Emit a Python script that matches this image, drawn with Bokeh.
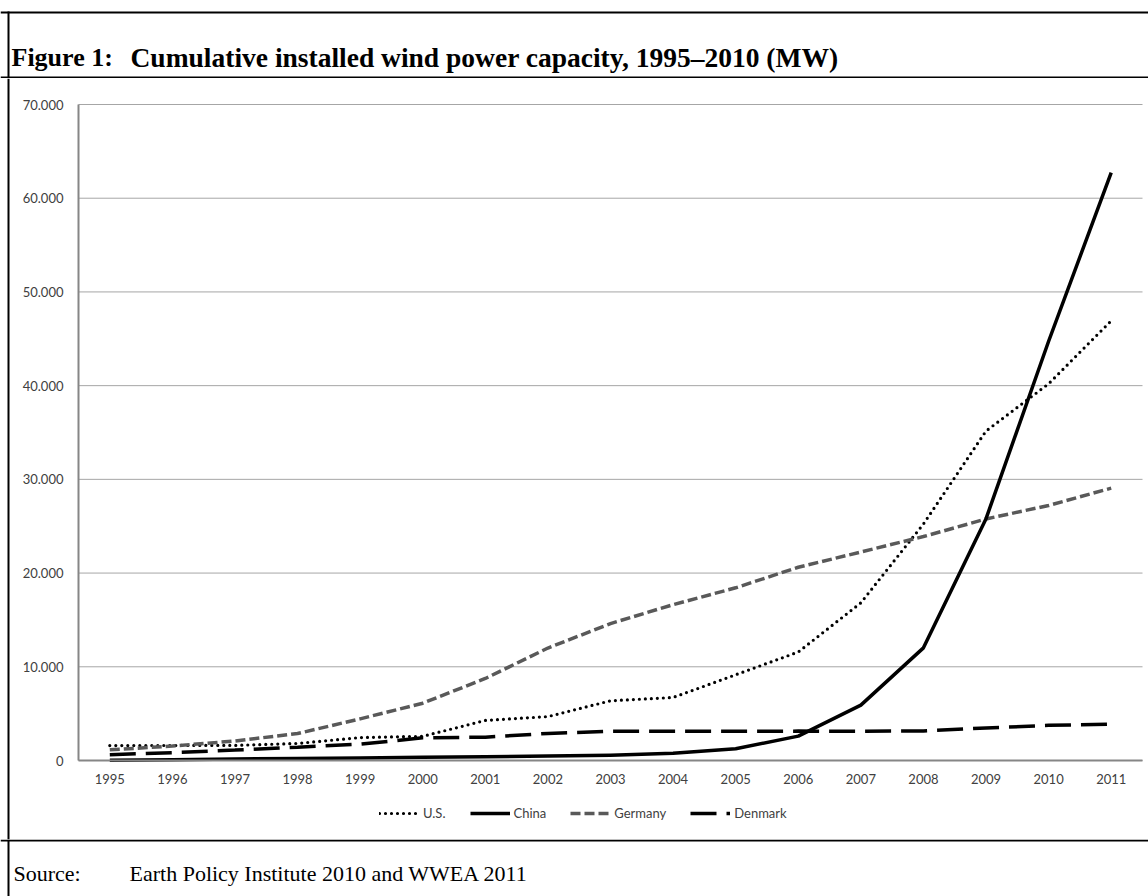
from bokeh.plotting import figure
from bokeh.models import Range1d, FixedTicker, Legend, LegendItem, Span
from bokeh.layouts import column
from bokeh.core.properties import value
from bokeh.embed import file_html
from bokeh.resources import INLINE

# ---- data ----
years = [1995, 1996, 1997, 1998, 1999, 2000, 2001, 2002, 2003,
         2004, 2005, 2006, 2007, 2008, 2009, 2010, 2011]
year_labels = ["1995", "1996", "1997", "1998", "1999", "2000", "2001", "2002", "2003",
               "2004", "2005", "2006", "2007", "2008", "2009", "2010", "2011"]
us = [1591, 1602, 1611, 1820, 2445, 2578, 4275, 4685, 6372, 6725, 9149,
      11575, 16824, 25237, 35159, 40200, 46919]
china = [38, 79, 170, 224, 268, 346, 402, 469, 567, 764, 1260,
         2599, 5912, 12020, 25805, 44733, 62733]
germany = [1136, 1546, 2082, 2875, 4445, 6113, 8754, 12001, 14609, 16629, 18428,
           20622, 22247, 23897, 25777, 27214, 29060]
denmark = [619, 835, 1116, 1420, 1738, 2417, 2489, 2889, 3116, 3123, 3127,
           3135, 3125, 3160, 3465, 3752, 3871]
y_ticks = [0, 10000, 20000, 30000, 40000, 50000, 60000, 70000]
y_tick_labels = ["0", "10.000", "20.000", "30.000", "40.000", "50.000", "60.000", "70.000"]
series_names = ["U.S.", "China", "Germany", "Denmark"]
title_lead = "Figure 1:"
title_text = "Cumulative installed wind power capacity, 1995\u20132010 (MW)"
source_lead = "Source:"
source_text = "Earth Policy Institute 2010 and WWEA 2011"

# ---- layout constants (pixels) ----
W, H = 1148, 896
TOP_H, BOT_H = 78, 57
MAIN_H = H - TOP_H - BOT_H          # main chart strip: page y 78 .. 839
PL, PR, PT, PB = 78, 1142, 104, 760  # plot area in page pixels
BORDER_X = 8
SERIF = value("Liberation Serif")


def strip(w, h):
    f = figure(width=w, height=h, x_range=Range1d(0, w), y_range=Range1d(h, 0),
               output_backend="svg", toolbar_location=None, min_border=0,
               x_axis_location=None, y_axis_location=None)
    try:
        f.title = None
    except Exception:
        pass
    f.grid.visible = False
    f.outline_line_color = None
    f.background_fill_color = "white"
    f.border_fill_color = "white"
    return f


# ---- top strip: border, title, separator ----
top = strip(W, TOP_H)
top.quad(left=[0, 0, BORDER_X - 1], right=[W, W, BORDER_X + 1],
         top=[11, 76, 11], bottom=[13, 78, TOP_H], color="black", line_width=0)
top.text(x=[11], y=[57], text=[title_lead], text_font=SERIF,
         text_font_size=value("26px"), text_font_style=value("bold"),
         text_baseline=value("alphabetic"), text_align=value("left"), text_color="black")
top.text(x=[130], y=[57], text=[title_text], text_font=SERIF,
         text_font_size=value("27.5px"), text_font_style=value("bold"),
         text_baseline=value("alphabetic"), text_align=value("left"), text_color="black")

# ---- main chart: frame covers the whole strip, axes fixed inside ----
x_lo, x_hi = years[0] - 0.5, years[-1] + 0.5
ppx = (PR - PL) / (x_hi - x_lo)
x_start = x_lo - PL / ppx
x_end = x_hi + (W - PR) / ppx
ppy = (PB - PT) / (y_ticks[-1] - y_ticks[0])
y_start = y_ticks[0] - (TOP_H + MAIN_H - PB) / ppy
y_end = y_ticks[-1] + (PT - TOP_H) / ppy

p = figure(width=W, height=MAIN_H,
           x_range=Range1d(x_start, x_end), y_range=Range1d(y_start, y_end),
           output_backend="svg", toolbar_location=None, min_border=0)
try:
    p.title = None
except Exception:
    pass
p.outline_line_color = None
p.background_fill_color = "white"
p.border_fill_color = "white"
p.grid.visible = False

# horizontal gridlines limited to plot area
n = len(y_ticks)
p.segment(x0=[x_lo] * n, y0=y_ticks, x1=[x_hi] * n, y1=y_ticks,
          line_color="#a6a6a6", line_width=1)

xa, ya = p.xaxis[0], p.yaxis[0]
xa.fixed_location = 0
xa.bounds = (x_lo, x_hi)
xa.ticker = FixedTicker(ticks=years)
xa.major_label_overrides = dict(zip(years, year_labels))
xa.major_label_standoff = 13
ya.fixed_location = x_lo
ya.bounds = (y_ticks[0], y_ticks[-1])
ya.ticker = FixedTicker(ticks=y_ticks)
ya.major_label_overrides = dict(zip(y_ticks, y_tick_labels))
ya.major_label_standoff = 15
for ax in (xa, ya):
    ax.axis_line_color = "#868686"
    ax.axis_line_width = 2
    ax.major_tick_out = 0
    ax.major_tick_in = 0
    ax.minor_tick_out = 0
    ax.minor_tick_in = 0
    ax.major_label_text_font = "Lato"
    ax.major_label_text_font_size = "13px"
    ax.major_label_text_color = "#404040"

# left border of the box
p.add_layout(Span(location=x_start + BORDER_X / ppx, dimension="height",
                  line_color="black", line_width=2))

r_us = p.line(years, us, line_color="black", line_width=3.2,
              line_dash="0 6", line_cap="round")
r_de = p.line(years, germany, line_color="#595959", line_width=3.5, line_dash="10 4")
r_dk = p.line(years, denmark, line_color="black", line_width=3.5, line_dash="26 10")
r_cn = p.line(years, china, line_color="black", line_width=3.5, line_join="round")

legend = Legend(items=[LegendItem(label=series_names[0], renderers=[r_us]),
                       LegendItem(label=series_names[1], renderers=[r_cn]),
                       LegendItem(label=series_names[2], renderers=[r_de]),
                       LegendItem(label=series_names[3], renderers=[r_dk])],
                orientation="horizontal", location=(379, 16),
                padding=0, margin=0, spacing=24, label_standoff=4,
                glyph_width=40, glyph_height=20, label_height=20,
                border_line_color=None, background_fill_alpha=0,
                label_text_font="Lato", label_text_font_size="13px",
                label_text_color="#404040")
p.add_layout(legend, "center")

# ---- bottom strip: separator, source ----
bot = strip(W, BOT_H)
bot.quad(left=[0, BORDER_X - 1], right=[W, BORDER_X + 1], top=[0, 0], bottom=[2, BOT_H],
         color="black", line_width=0)
bot.text(x=[13], y=[34], text=[source_lead], text_font=SERIF,
         text_font_size=value("22px"), text_baseline=value("alphabetic"),
         text_align=value("left"), text_color="black")
bot.text(x=[129], y=[34], text=[source_text], text_font=SERIF,
         text_font_size=value("22px"), text_baseline=value("alphabetic"),
         text_align=value("left"), text_color="black")

layout = column(top, p, bot, spacing=0)
open("out.html", "w").write(file_html(layout, INLINE))
